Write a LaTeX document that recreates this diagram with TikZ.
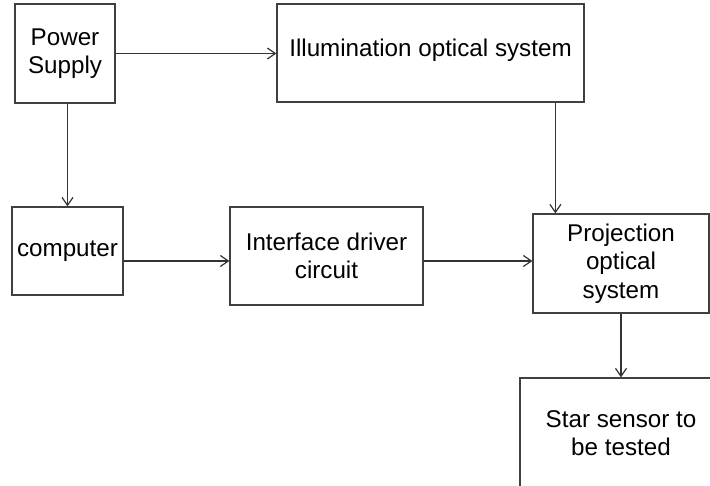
\documentclass[tikz,border=0pt]{standalone}
\usepackage{fontspec}
\setmainfont{Liberation Sans}
\usetikzlibrary{arrows.meta}
\begin{document}
\begin{tikzpicture}[x=1pt,y=-1pt,
  blk/.style={draw=black!75,line width=1.2pt,rectangle,inner sep=0pt,align=center,
    font=\fontsize{24.2}{28.5}\selectfont,text=black},
  txt/.style={inner sep=0pt,align=center,font=\fontsize{24.2}{28.5}\selectfont,text=black},
  arr/.style={draw=black!80,line width=1.2pt,-{Straight Barb[length=8pt,width=11pt,line width=1.2pt]}}]
\clip (0,0) rectangle (710,486);
\fill[white] (0,0) rectangle (710,486);
\node[blk,minimum width=100pt,minimum height=99pt] (power) at (65,53.5) {Power\\Supply};
\node[blk,minimum width=307pt,minimum height=98pt] (illum) at (430.5,53) {};
\node[txt] (illumtxt) at ([yshift=3pt]illum.center) {Illumination optical system};
\node[blk,minimum width=111pt,minimum height=88pt] (comp) at (67.5,251) {computer};
\node[blk,minimum width=193pt,minimum height=98pt] (iface) at (326.5,256) {Interface driver\\circuit};
\node[blk,minimum width=176pt,minimum height=99pt] (proj) at (621,263.5) {Projection\\optical\\system};
\node[blk,minimum width=202pt,minimum height=110pt] (star) at (621,433) {Star sensor to\\be tested};
\coordinate (m) at ([yshift=-5pt]iface.west);
\coordinate (pin) at ([xshift=23pt]proj.north west);
\draw[arr] (power.east) -- (illum.west |- power.east);
\draw[arr] (power.south -| comp.north) -- (comp.north);
\draw[arr] (illum.south -| pin) -- (pin);
\draw[arr] (comp.east |- m) -- (m);
\draw[arr] (iface.east |- m) -- (proj.west |- m);
\draw[arr] (proj.south) -- (star.north);
\end{tikzpicture}
\end{document}
